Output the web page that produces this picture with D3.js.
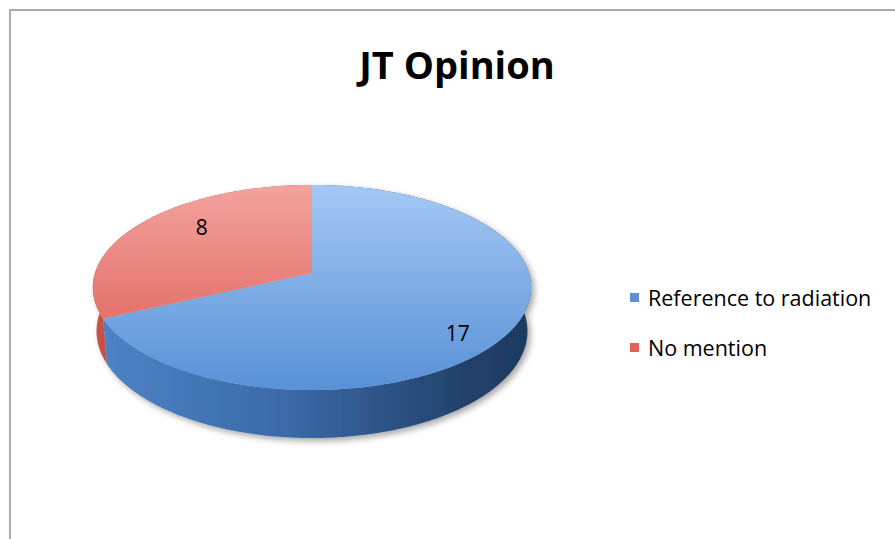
<!DOCTYPE html>
<html>
<head>
<meta charset="utf-8">
<script src="https://cdn.jsdelivr.net/npm/d3@7"></script>
<style>
  html, body { margin: 0; padding: 0; background: #ffffff; }
  svg { display: block; }
</style>
</head>
<body>
<svg id="chart" width="895" height="539"></svg>
<script>
// Chart data
const title = "JT Opinion";
const categories = ["Reference to radiation", "No mention"];
const values = [17, 8];

// Presentation
const topColors = [["#a4c8f4", "#5891d6"], ["#f3a39e", "#dc574f"]];
const sideColors = [
  [["0", "#4d84c7"], ["0.45", "#3a69a6"], ["0.85", "#22426b"], ["1", "#1e3a5f"]],
  [["0", "#c9504a"], ["1", "#b5443e"]]
];
const legendColors = ["#5b90d6", "#e0625b"];
const labelRadius = [0.75, 0.63];

const W = 895, H = 539;
const svg = d3.select("#chart");
const defs = svg.append("defs");

// frame of the chart area
svg.append("rect")
  .attr("x", 10).attr("y", 10)
  .attr("width", W + 10).attr("height", H + 10)
  .attr("fill", "#ffffff")
  .attr("stroke", "#ababab").attr("stroke-width", 2);

svg.append("text")
  .attr("x", 457).attr("y", 79)
  .attr("text-anchor", "middle")
  .attr("font-family", "'Open Sans', sans-serif")
  .attr("font-weight", 700)
  .attr("font-size", 38)
  .attr("fill", "#000")
  .text(title);

// 3D pie projection: angle clockwise from 12 o'clock, h = 0 top face, 1 bottom
const cx = 312, cy = 273, A = 217;
const tilt = 27.6 * Math.PI / 180, sinT = Math.sin(tilt), cosT = Math.cos(tilt);
const persp = 0.159, thick = 0.229;
function proj(theta, h, r = 1) {
  const x = r * Math.sin(theta), z = r * Math.cos(theta), y = -h * thick;
  const yc = y * cosT + z * sinT;
  const dep = z * cosT - y * sinT;
  const f = 1 / (1 + persp * dep);
  return [cx + A * x * f, cy - A * yc * f];
}
function arcPoints(a0, a1, h) {
  const n = Math.max(2, Math.ceil((a1 - a0) / 0.01));
  return d3.range(n + 1).map(i => proj(a0 + (a1 - a0) * i / n, h));
}

const pie = d3.pie().sort(null).value(d => d)(values);

// gradients
const yTop = proj(0, 0)[1], yFront = proj(Math.PI, 0)[1];
const xl = proj(-Math.PI / 2, 0)[0], xr = proj(Math.PI / 2, 0)[0];
pie.forEach((s, i) => {
  const gt = defs.append("linearGradient").attr("id", "top" + i)
    .attr("gradientUnits", "userSpaceOnUse")
    .attr("x1", 0).attr("x2", 0).attr("y1", yTop).attr("y2", yFront);
  gt.append("stop").attr("offset", "0").attr("stop-color", topColors[i][0]);
  gt.append("stop").attr("offset", "1").attr("stop-color", topColors[i][1]);
  const gs = defs.append("linearGradient").attr("id", "side" + i)
    .attr("gradientUnits", "userSpaceOnUse")
    .attr("x1", xl).attr("x2", xr).attr("y1", 0).attr("y2", 0);
  sideColors[i].forEach(st => gs.append("stop").attr("offset", st[0]).attr("stop-color", st[1]));
});

// soft shadow under the pie
const shadow = defs.append("filter").attr("id", "shadow")
  .attr("x", "-10%").attr("y", "-10%").attr("width", "120%").attr("height", "130%");
shadow.append("feGaussianBlur").attr("in", "SourceAlpha").attr("stdDeviation", 3).attr("result", "b");
shadow.append("feOffset").attr("in", "b").attr("dx", 3).attr("dy", 3).attr("result", "o");
shadow.append("feComponentTransfer").attr("in", "o").attr("result", "s")
  .append("feFuncA").attr("type", "linear").attr("slope", 0.35);
const merge = shadow.append("feMerge");
merge.append("feMergeNode").attr("in", "s");
merge.append("feMergeNode").attr("in", "SourceGraphic");

const line = d3.line();
const pieG = svg.append("g").attr("filter", "url(#shadow)");

// side walls
pieG.selectAll("path.side").data(pie).join("path")
  .attr("class", "side")
  .attr("fill", (d, i) => `url(#side${i})`)
  .attr("d", d => {
    const topPts = arcPoints(d.startAngle, d.endAngle, 0);
    const botPts = arcPoints(d.startAngle, d.endAngle, 1).reverse();
    return line(topPts.concat(botPts)) + "Z";
  });

// top faces
pieG.selectAll("path.top").data(pie).join("path")
  .attr("class", "top")
  .attr("fill", (d, i) => `url(#top${i})`)
  .attr("d", d => line([[cx, cy]].concat(arcPoints(d.startAngle, d.endAngle, 0))) + "Z");

// value labels
svg.selectAll("text.val").data(pie).join("text")
  .attr("class", "val")
  .attr("font-family", "'Open Sans', sans-serif")
  .attr("font-size", 21)
  .attr("fill", "#000")
  .attr("text-anchor", "middle")
  .attr("dominant-baseline", "central")
  .each(function (d, i) {
    const mid = (d.startAngle + d.endAngle) / 2;
    const p = proj(mid, 0, labelRadius[i]);
    d3.select(this).attr("x", p[0]).attr("y", cy + 1.41 * (p[1] - cy));
  })
  .text(d => d.value);

// legend
const legend = svg.append("g");
const items = legend.selectAll("g").data(categories).join("g")
  .attr("transform", (d, i) => `translate(630, ${293 + i * 50})`);
items.append("rect").attr("width", 9).attr("height", 9)
  .attr("fill", (d, i) => legendColors[i]);
items.append("text")
  .attr("x", 18).attr("y", 13)
  .attr("font-family", "'Open Sans', sans-serif")
  .attr("font-size", 21.5)
  .attr("fill", "#000")
  .text(d => d);
</script>
</body>
</html>
